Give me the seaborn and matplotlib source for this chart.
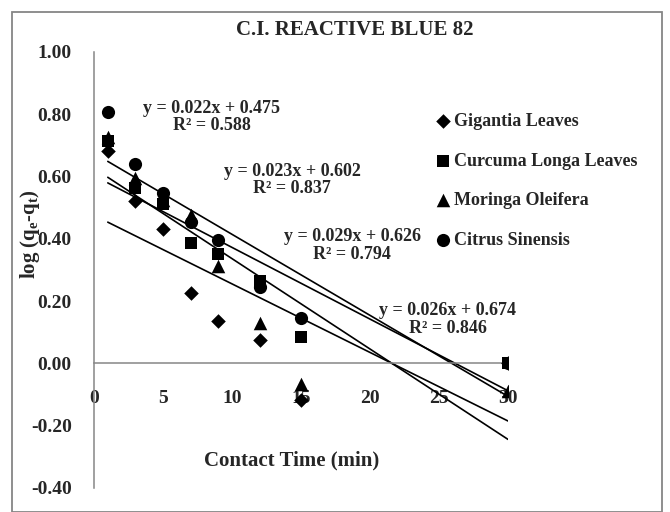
import matplotlib
matplotlib.use("Agg")
import matplotlib.pyplot as plt
import matplotlib.patches as mpatches
import numpy as np
import pandas as pd
import seaborn as sns

# contact time (min) and log(qe - qt) per adsorbent
contact_time = [1, 3, 5, 7, 9, 12, 15, 30]
gigantia = [0.68, 0.52, 0.432, 0.225, 0.135, 0.075, -0.117, 0.0]
curcuma = [0.715, 0.563, 0.512, 0.385, 0.352, 0.265, 0.085, 0.0]
moringa = [0.727, 0.595, 0.525, 0.475, 0.312, 0.128, -0.065, -0.09]
citrus = [0.805, 0.64, 0.545, 0.455, 0.397, 0.245, 0.145, 0.0]

series_names = ["Gigantia Leaves", "Curcuma Longa Leaves", "Moringa Oleifera", "Citrus Sinensis"]
series_values = [gigantia, curcuma, moringa, citrus]

# linear trendlines (slope, intercept) and the labels printed on the chart
trend_slopes = [-0.022, -0.023, -0.029, -0.026]
trend_intercepts = [0.475, 0.602, 0.626, 0.674]
trend_labels = [
    "y = 0.022x + 0.475\nR² = 0.588",
    "y = 0.023x + 0.602\nR² = 0.837",
    "y = 0.029x + 0.626\nR² = 0.794",
    "y = 0.026x + 0.674\nR² = 0.846",
]

y_ticks = [-0.40, -0.20, 0.00, 0.20, 0.40, 0.60, 0.80, 1.00]
x_ticks = [0, 5, 10, 15, 20, 25, 30]

sns.set_style("white")
plt.rcParams["font.family"] = ["Liberation Serif", "DejaVu Serif"]
plt.rcParams["font.weight"] = "bold"
plt.rcParams["axes.unicode_minus"] = False
plt.rcParams["mathtext.fontset"] = "custom"
plt.rcParams["mathtext.rm"] = "Liberation Serif:bold"
plt.rcParams["mathtext.it"] = "Liberation Serif:bold:italic"
plt.rcParams["mathtext.bf"] = "Liberation Serif:bold"

df = pd.DataFrame({
    "time": np.tile(contact_time, len(series_names)),
    "value": np.concatenate(series_values),
    "series": np.repeat(series_names, len(contact_time)),
})

fig = plt.figure(figsize=(6.7, 5.12), dpi=100)
ax = fig.add_axes([94 / 670, 24 / 512, 414 / 670, 436.3 / 512])

# outer chart border
fig.patches.append(mpatches.Rectangle(
    (12 / 670, 0.5 / 512), 650 / 670, 499.5 / 512, transform=fig.transFigure,
    fill=False, edgecolor="#868686", linewidth=1.3))

markers = {"Gigantia Leaves": "D", "Curcuma Longa Leaves": "s",
           "Moringa Oleifera": "^", "Citrus Sinensis": "o"}
sizes = {"Gigantia Leaves": 55, "Curcuma Longa Leaves": 80,
         "Moringa Oleifera": 95, "Citrus Sinensis": 90}

x_fit = np.array([min(contact_time), max(contact_time)])
for slope, icpt in zip(trend_slopes, trend_intercepts):
    ax.plot(x_fit, slope * x_fit + icpt, color="black", linewidth=1.2, zorder=2)

for name in series_names:
    sns.scatterplot(data=df[df["series"] == name], x="time", y="value", ax=ax,
                    marker=markers[name], s=sizes[name], color="black",
                    edgecolor="black", linewidth=0, label=name, zorder=3)

# trendline equations, centred as in the chart
label_pos = [(8.55, 0.79), (14.35, 0.588), (18.7, 0.379), (25.65, 0.14)]
for (lx, ly), txt in zip(label_pos, trend_labels):
    ax.text(lx, ly, txt, ha="center", va="center", fontsize=13,
            fontweight="bold", linespacing=1.05, zorder=4)

ax.set_xlim(0, 30)
ax.set_ylim(-0.4, 1.0)
ax.set_xticks(x_ticks)
ax.set_yticks(y_ticks)
ax.set_yticklabels([f"{v:.2f}" for v in y_ticks])
ax.spines["top"].set_visible(False)
ax.spines["right"].set_visible(False)
ax.spines["bottom"].set_position(("data", 0))
for side in ["left", "bottom"]:
    ax.spines[side].set_color("#868686")
    ax.spines[side].set_linewidth(1.1)
ax.tick_params(axis="y", direction="out", length=4, width=1, color="#868686",
               labelsize=14, pad=12)
ax.tick_params(axis="x", direction="out", length=4, width=1, color="#868686",
               labelsize=14, pad=15)
for lbl in ax.get_xticklabels() + ax.get_yticklabels():
    lbl.set_fontweight("bold")

ax.set_xlabel("Contact Time (min)", fontsize=15, fontweight="bold")
ax.xaxis.set_label_coords(0.478, 0.085)
ax.set_ylabel(r"log (q$_{\mathrm{e}}$-q$_{\mathrm{t}}$)", fontsize=15, fontweight="bold")
ax.yaxis.set_label_coords(-0.125, 0.582)

ax.text(0.63, (488 - 30) / 436.3, "C.I. REACTIVE BLUE 82", transform=ax.transAxes,
        ha="center", va="center", fontsize=15, fontweight="bold")

ax.legend(loc="upper left", bbox_to_anchor=(436 / 670, 1 - 113 / 512),
          bbox_transform=fig.transFigure, frameon=False, fontsize=13,
          handlelength=0.8, handletextpad=0.2, labelspacing=1.25,
          borderpad=0, borderaxespad=0, prop={"weight": "bold", "size": 13})

fig.savefig("out.png", dpi=100)
plt.close(fig)
